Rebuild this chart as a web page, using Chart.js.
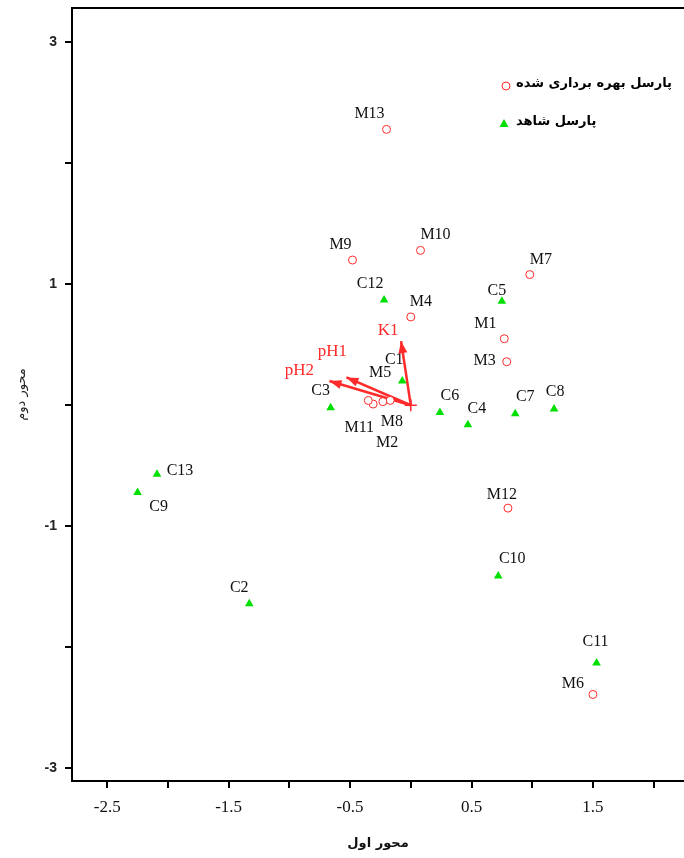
<!DOCTYPE html>
<html>
<head>
<meta charset="utf-8">
<script src="https://cdn.jsdelivr.net/npm/chart.js@4.4.1/dist/chart.umd.min.js"></script>
<style>
  html, body { margin: 0; padding: 0; background: #fff; overflow: hidden; }
  #wrap { width: 684px; height: 858px; }
</style>
</head>
<body>
<div id="wrap"><canvas id="ordination" width="684" height="858"></canvas></div>
<script>
// exploited plots (M) - first and second axis scores
const mLabels = ['M1', 'M2', 'M3', 'M4', 'M5', 'M6', 'M7', 'M8', 'M9', 'M10', 'M11', 'M12', 'M13'];
const mX = [0.77, -0.31, 0.79, 0.00, -0.17, 1.50, 0.98, -0.23, -0.48, 0.08, -0.35, 0.80, -0.20];
const mY = [0.55, 0.01, 0.36, 0.73, 0.04, -2.39, 1.08, 0.03, 1.20, 1.28, 0.04, -0.85, 2.28];

// control plots (C)
const cLabels = ['C1', 'C2', 'C3', 'C4', 'C5', 'C6', 'C7', 'C8', 'C9', 'C10', 'C11', 'C12', 'C13'];
const cX = [-0.07, -1.33, -0.66, 0.47, 0.75, 0.24, 0.86, 1.18, -2.25, 0.72, 1.53, -0.22, -2.09];
const cY = [0.20, -1.64, -0.02, -0.16, 0.86, -0.06, -0.07, -0.03, -0.72, -1.41, -2.13, 0.87, -0.57];

// environmental vectors
const arrowLabels = ['K1', 'pH1', 'pH2'];
const arrowX = [-0.08, -0.53, -0.67];
const arrowY = [0.53, 0.23, 0.20];

// ticks
const xTicks = [-2.5, -2, -1.5, -1, -0.5, 0, 0.5, 1, 1.5, 2];
const xTickLabels = [-2.5, -1.5, -0.5, 0.5, 1.5];
const yTicks = [-3, -2, -1, 0, 1, 2, 3];
const yTickLabels = [-3, -1, 1, 3];

const seriesNames = ['پارسل بهره برداری شده', 'پارسل شاهد'];
const xTitle = 'محور اول';
const yTitle = 'محور دوم';

// label placement (pixels from the point)
const mOffX = [-19, 14, -22, 10, -10, -20, 11, 9, -12, 15, -9, -6, -17];
const mOffY = [-15, 39, -1, -15, -28, -11, -15, 20, -15, -16, 27, -13, -16];
const cOffX = [-8, -10, -10, 9, -5, 10, 10, 1, 21, 14, -1, -14, 23];
const cOffY = [-21, -16, -17, -16, -10, -17, -17, -17, 14, -17, -21, -16, -3];
const aOffX = [-13, -14, -30];
const aOffY = [-11, -26, -11];

const RED = '#ff2a2a';
const GREEN = '#00e000';
const SERIF = '"Liberation Serif", "Times New Roman", serif';
const ARABIC = '"DejaVu Sans", sans-serif';

const toPts = (xs, ys) => xs.map((x, i) => ({ x, y: ys[i] }));

const datasets = [
  {
    label: seriesNames[0],
    data: toPts(mX, mY),
    pointStyle: 'circle',
    pointRadius: 4,
    pointBorderWidth: 1,
    borderColor: RED,
    backgroundColor: '#fff',
    names: mLabels, offX: mOffX, offY: mOffY,
  },
  {
    label: seriesNames[1],
    data: toPts(cX, cY),
    pointStyle: 'triangle',
    pointRadius: 5,
    pointBorderWidth: 0,
    borderColor: GREEN,
    backgroundColor: GREEN,
    names: cLabels, offX: cOffX, offY: cOffY,
  },
];

arrowLabels.forEach((name, i) => {
  datasets.push({
    label: name,
    data: [{ x: 0, y: 0 }, { x: arrowX[i], y: arrowY[i] }],
    showLine: true,
    borderColor: RED,
    borderWidth: 2.5,
    pointRadius: 0,
    arrow: true,
    names: [null, name], offX: [0, aOffX[i]], offY: [0, aOffY[i]],
  });
});

datasets.push({
  label: 'origin',
  data: [{ x: 0, y: 0 }],
  pointStyle: 'cross',
  pointRadius: 6,
  pointBorderWidth: 1.5,
  borderColor: RED,
});

const frameAndLabels = {
  id: 'frameAndLabels',
  afterDatasetsDraw(chart) {
    const { ctx, chartArea } = chart;
    ctx.save();
    // top frame line
    ctx.strokeStyle = '#000';
    ctx.lineWidth = 2;
    ctx.beginPath();
    ctx.moveTo(chartArea.left - 1, chartArea.top);
    ctx.lineTo(chartArea.right, chartArea.top);
    ctx.stroke();

    chart.data.datasets.forEach((ds, i) => {
      const meta = chart.getDatasetMeta(i);
      if (ds.arrow) {
        const p0 = meta.data[0], p1 = meta.data[1];
        const a = Math.atan2(p1.y - p0.y, p1.x - p0.x);
        const len = 12, hw = 4.5;
        ctx.fillStyle = RED;
        ctx.beginPath();
        ctx.moveTo(p1.x, p1.y);
        ctx.lineTo(p1.x - len * Math.cos(a) + hw * Math.sin(a), p1.y - len * Math.sin(a) - hw * Math.cos(a));
        ctx.lineTo(p1.x - len * Math.cos(a) - hw * Math.sin(a), p1.y - len * Math.sin(a) + hw * Math.cos(a));
        ctx.closePath();
        ctx.fill();
      }
      if (!ds.names) return;
      ctx.font = ds.arrow ? '17px ' + SERIF : '16px ' + SERIF;
      ctx.fillStyle = ds.arrow ? RED : '#111';
      ctx.textAlign = 'center';
      ctx.textBaseline = 'middle';
      ds.names.forEach((n, j) => {
        if (!n) return;
        const el = meta.data[j];
        ctx.fillText(n, el.x + ds.offX[j], el.y + ds.offY[j]);
      });
    });

    // legend
    const lx = chartArea.right - 180;
    const ly = [86, 124];
    ctx.font = 'bold 13px ' + ARABIC;
    ctx.textAlign = 'left';
    ctx.textBaseline = 'middle';
    ctx.strokeStyle = RED;
    ctx.lineWidth = 1;
    ctx.beginPath();
    ctx.arc(lx + 2, ly[0], 4, 0, Math.PI * 2);
    ctx.stroke();
    ctx.fillStyle = GREEN;
    ctx.beginPath();
    ctx.moveTo(lx, ly[1] - 5);
    ctx.lineTo(lx + 4.5, ly[1] + 3);
    ctx.lineTo(lx - 4.5, ly[1] + 3);
    ctx.closePath();
    ctx.fill();
    ctx.fillStyle = '#000';
    ctx.fillText(seriesNames[0], lx + 12, ly[0] - 2);
    ctx.fillText(seriesNames[1], lx + 12, ly[1] - 2);
    ctx.restore();
  },
};

new Chart(document.getElementById('ordination'), {
  type: 'scatter',
  data: { datasets },
  options: {
    responsive: false,
    animation: false,
    layout: { autoPadding: false, padding: { top: 8, right: 0, left: 0, bottom: 0 } },
    plugins: { legend: { display: false }, tooltip: { enabled: false } },
    scales: {
      x: {
        type: 'linear',
        min: -2.79,
        max: 2.25,
        afterBuildTicks: (s) => { s.ticks = xTicks.map(v => ({ value: v })); },
        afterFit: (s) => { s.height = 77; s.paddingLeft = 0; s.paddingRight = 0; },
        border: { display: true, color: '#000', width: 2 },
        grid: { drawOnChartArea: false, drawTicks: true, tickLength: 7, color: '#000', lineWidth: 2 },
        ticks: {
          autoSkip: false,
          maxRotation: 0,
          padding: 9,
          color: '#111',
          font: { family: SERIF, size: 17 },
          callback: (v) => xTickLabels.includes(v) ? String(v) : '',
        },
        title: {
          display: true,
          text: xTitle,
          color: '#111',
          font: { family: ARABIC, size: 13, weight: 'bold' },
          padding: { top: 0, bottom: 7 },
        },
      },
      y: {
        type: 'linear',
        min: -3.105,
        max: 3.283,
        afterBuildTicks: (s) => { s.ticks = yTicks.map(v => ({ value: v })); },
        afterFit: (s) => { s.width = 72; s.paddingTop = 0; s.paddingBottom = 0; },
        border: { display: true, color: '#000', width: 2 },
        grid: { drawOnChartArea: false, drawTicks: true, tickLength: 7, color: '#000', lineWidth: 2 },
        ticks: {
          autoSkip: false,
          padding: 8,
          color: '#222',
          font: { family: '"Liberation Sans", Arial, sans-serif', size: 14, weight: 'bold' },
          callback: (v) => yTickLabels.includes(v) ? String(v) : '',
        },
        title: {
          display: true,
          text: yTitle,
          color: '#222',
          font: { family: ARABIC, size: 13 },
          padding: { top: 14, bottom: 0 },
        },
      },
    },
  },
  plugins: [frameAndLabels],
});
</script>
</body>
</html>
